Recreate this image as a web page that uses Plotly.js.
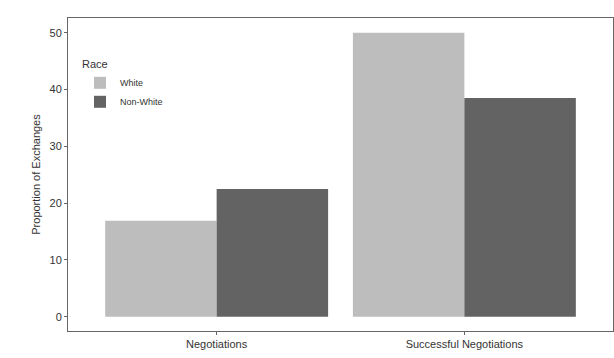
<!DOCTYPE html>
<html>
<head>
<meta charset="utf-8">
<script src="https://cdn.plot.ly/plotly-3.0.1.min.js"></script>
<style>html,body{margin:0;padding:0;background:#fff;}#chart{width:614px;height:358px;}</style>
</head>
<body>
<div id="chart"></div>
<script>
const categories = ["Negotiations", "Successful Negotiations"];
const seriesNames = ["White", "Non-White"];
const whiteValues = [16.9, 50.0];
const nonWhiteValues = [22.5, 38.5];
const yTicks = [0, 10, 20, 30, 40, 50];

const font = "Liberation Sans, Arial, sans-serif";
const traces = [
  {type: "bar", name: seriesNames[0], x: categories, y: whiteValues, marker: {color: "#bdbdbd"}},
  {type: "bar", name: seriesNames[1], x: categories, y: nonWhiteValues, marker: {color: "#636363"}}
];
const layout = {
  width: 614, height: 358,
  margin: {l: 68, r: 1, t: 18, b: 27},
  paper_bgcolor: "#ffffff", plot_bgcolor: "#ffffff",
  barmode: "group", bargap: 0.1, bargroupgap: 0,
  font: {family: font, size: 11, color: "#333"},
  showlegend: true,
  legend: {
    x: 0.022, y: 0.885, xanchor: "left", yanchor: "top",
    bgcolor: "rgba(0,0,0,0)",
    title: {text: "Race", font: {size: 11, color: "#333"}},
    font: {size: 9, color: "#333"},
    itemwidth: 30, tracegroupgap: 0
  },
  xaxis: {
    range: [-0.6, 1.6], showgrid: false, zeroline: false,
    showline: true, mirror: true, linecolor: "#666", linewidth: 1,
    ticks: "outside", ticklen: 3, tickcolor: "#666",
    tickfont: {size: 11, color: "#333"}
  },
  yaxis: {
    range: [-2.5, 52.6], tickvals: yTicks, showgrid: false, zeroline: false,
    showline: true, mirror: true, linecolor: "#666", linewidth: 1,
    ticks: "outside", ticklen: 3, tickcolor: "#666",
    tickfont: {size: 11, color: "#333"},
    title: {text: "Proportion of Exchanges", font: {size: 11, color: "#333"}, standoff: 6}
  }
};
Plotly.newPlot("chart", traces, layout, {displayModeBar: false, staticPlot: true});
</script>
</body>
</html>
